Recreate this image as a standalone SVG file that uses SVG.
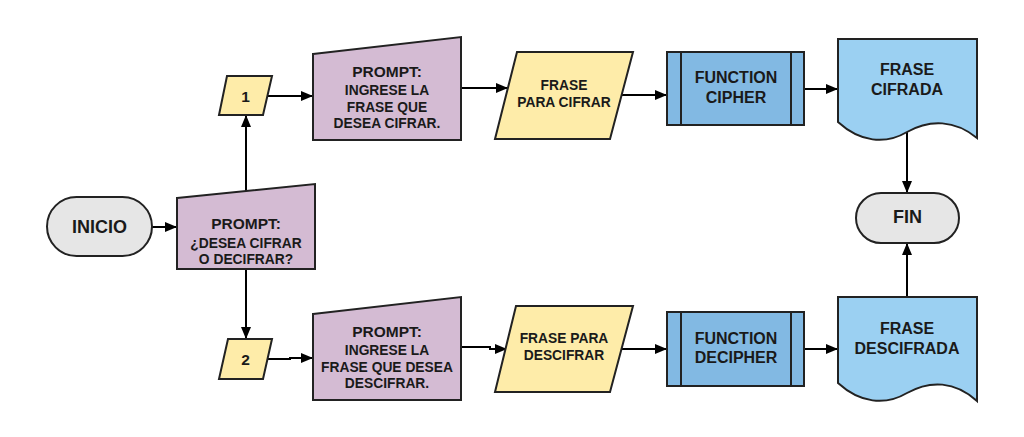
<svg xmlns="http://www.w3.org/2000/svg" width="1024" height="437" viewBox="0 0 1024 437">
<defs>
<marker id="arr" viewBox="0 0 12 10" refX="12" refY="5" markerWidth="12" markerHeight="10" markerUnits="userSpaceOnUse" orient="auto">
<path d="M0,0 L12,5 L0,10 Z" fill="#000"/>
</marker>
<style>
.s{stroke:#222;stroke-width:2;}
.term{fill:#e6e6e6;}
.prompt{fill:#d4bbd3;}
.io{fill:#feeca9;}
.fn{fill:#82b9e3;}
.doc{fill:#9bd0f2;}
text{font-family:"Liberation Sans",Arial,sans-serif;font-weight:bold;fill:#1a1a1a;text-anchor:middle;dominant-baseline:central;}
.p{font-size:15.5px;}
.b{font-size:13.8px;}
.c line,.c polyline{stroke:#000;stroke-width:2;fill:none;marker-end:url(#arr);}
</style>
</defs>
<rect width="1024" height="437" fill="#fff"/>
<g class="c" id="connectors">
<line x1="152" y1="227" x2="177" y2="227"/>
<line x1="246" y1="191" x2="246" y2="115"/>
<line x1="246" y1="269" x2="246" y2="339"/>
<line x1="268" y1="96" x2="313" y2="96"/>
<line x1="461" y1="88" x2="508" y2="88"/>
<line x1="622" y1="95" x2="667" y2="95"/>
<line x1="804" y1="89" x2="838" y2="89"/>
<line x1="907" y1="132" x2="907" y2="193"/>
<polyline points="268,359 290,359 290,358 313,358"/>
<polyline points="461,347 490,347 490,349 507,349"/>
<line x1="620" y1="349" x2="667" y2="349"/>
<line x1="804" y1="349" x2="838" y2="349"/>
<line x1="907" y1="297" x2="907" y2="243"/>
</g>
<g id="inicio">
<rect class="s term" x="47" y="197" width="105" height="59" rx="29.5"/>
<text x="99.5" y="226.5" font-size="18">INICIO</text>
</g>
<g id="prompt0">
<path class="s prompt" d="M177,198 L315,184 L315,269 L177,269 Z"/>
<text class="p" x="246" y="223">PROMPT:</text>
<text class="b" x="246" y="243">¿DESEA CIFRAR</text>
<text class="b" x="246" y="259">O DECIFRAR?</text>
</g>
<g id="in1">
<path class="s io" d="M227,76 L272,76 L263,115 L219,115 Z"/>
<text x="245.5" y="96" font-size="15.5">1</text>
</g>
<g id="prompt1">
<path class="s prompt" d="M313,54 L461,37 L461,140 L313,140 Z"/>
<text class="p" x="387" y="71">PROMPT:</text>
<text class="b" x="387" y="90">INGRESE LA</text>
<text class="b" x="387" y="107">FRASE QUE</text>
<text class="b" x="387" y="123">DESEA CIFRAR.</text>
</g>
<g id="frase1">
<path class="s io" d="M517,52 L633,52 L610,139 L495,139 Z"/>
<text class="b" x="564" y="85">FRASE</text>
<text class="b" x="564" y="102">PARA CIFRAR</text>
</g>
<g id="cipher">
<rect class="s fn" x="667" y="52" width="137" height="73"/>
<line class="s" x1="681" y1="52" x2="681" y2="125"/>
<line class="s" x1="791" y1="52" x2="791" y2="125"/>
<text x="736" y="77" font-size="16">FUNCTION</text>
<text x="736" y="97" font-size="16">CIPHER</text>
</g>
<g id="doc1">
<path class="s doc" d="M838,39 L977,39 L977,138 C955,120 930,119 907,132 C885,145 860,142 838,122 Z"/>
<text x="907" y="69" font-size="16">FRASE</text>
<text x="907" y="89" font-size="16">CIFRADA</text>
</g>
<g id="fin">
<rect class="s term" x="856" y="193" width="103" height="50" rx="25"/>
<text x="907.5" y="217" font-size="18">FIN</text>
</g>
<g id="in2">
<path class="s io" d="M228,339 L272,339 L263,379 L219,379 Z"/>
<text x="245.5" y="359" font-size="15.5">2</text>
</g>
<g id="prompt2">
<path class="s prompt" d="M313,314 L461,297 L461,400 L313,400 Z"/>
<text class="p" x="387" y="331">PROMPT:</text>
<text class="b" x="387" y="350">INGRESE LA</text>
<text class="b" x="387" y="367">FRASE QUE DESEA</text>
<text class="b" x="387" y="383">DESCIFRAR.</text>
</g>
<g id="frase2">
<path class="s io" d="M516,306 L633,306 L610,392 L495,392 Z"/>
<text class="b" x="564" y="338">FRASE PARA</text>
<text class="b" x="564" y="355">DESCIFRAR</text>
</g>
<g id="decipher">
<rect class="s fn" x="667" y="312" width="137" height="74"/>
<line class="s" x1="681" y1="312" x2="681" y2="386"/>
<line class="s" x1="791" y1="312" x2="791" y2="386"/>
<text x="736" y="338" font-size="16">FUNCTION</text>
<text x="736" y="357" font-size="16">DECIPHER</text>
</g>
<g id="doc2">
<path class="s doc" d="M838,297 L977,297 L977,401 C955,381 930,380 907,393 C885,406 860,403 838,383 Z"/>
<text x="907" y="328" font-size="16">FRASE</text>
<text x="907" y="348" font-size="16">DESCIFRADA</text>
</g>
</svg>
